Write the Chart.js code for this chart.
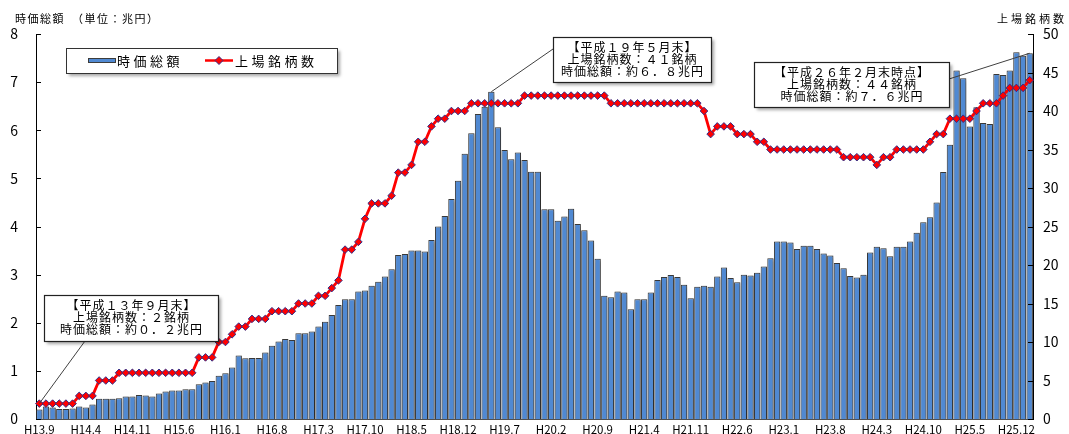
<!DOCTYPE html>
<html lang="ja">
<head>
<meta charset="utf-8">
<title>時価総額と上場銘柄数</title>
<script src="https://cdn.jsdelivr.net/npm/chart.js@4.4.1/dist/chart.umd.min.js"></script>
<style>
  html, body { margin: 0; padding: 0; background: #fff; }
  #chart { display: block; }
</style>
</head>
<body>
<canvas id="chart" width="1069" height="434"></canvas>
<script>
// Month-end figures, H13.9 through H26.2
const startYear = 13;   // Heisei year of the first month
const startMonth = 9;
const labelEvery = 7;   // one axis label every 7 months

// 時価総額 (兆円)
const marketCap = [
  0.20, 0.26, 0.24, 0.21, 0.21, 0.22, 0.26, 0.24, 0.30, 0.42,
  0.42, 0.42, 0.43, 0.47, 0.47, 0.50, 0.49, 0.47, 0.53, 0.57,
  0.59, 0.59, 0.62, 0.62, 0.72, 0.76, 0.79, 0.90, 0.95, 1.07,
  1.32, 1.26, 1.27, 1.27, 1.38, 1.52, 1.61, 1.66, 1.64, 1.78,
  1.78, 1.82, 1.92, 2.02, 2.16, 2.37, 2.49, 2.49, 2.65, 2.67,
  2.77, 2.85, 2.96, 3.11, 3.41, 3.43, 3.50, 3.50, 3.48, 3.72,
  4.00, 4.22, 4.57, 4.95, 5.51, 5.94, 6.34, 6.49, 6.80, 6.06,
  5.59, 5.40, 5.54, 5.38, 5.14, 5.14, 4.36, 4.36, 4.12, 4.21,
  4.37, 4.05, 3.92, 3.71, 3.33, 2.56, 2.53, 2.65, 2.63, 2.28,
  2.49, 2.49, 2.63, 2.89, 2.95, 2.99, 2.95, 2.79, 2.51, 2.75,
  2.77, 2.75, 2.96, 3.15, 2.93, 2.84, 3.00, 2.98, 3.04, 3.17,
  3.34, 3.69, 3.69, 3.67, 3.53, 3.60, 3.60, 3.53, 3.44, 3.40,
  3.24, 3.13, 2.97, 2.94, 3.00, 3.46, 3.58, 3.55, 3.38, 3.58,
  3.58, 3.69, 3.87, 4.09, 4.19, 4.50, 5.13, 5.70, 7.24, 7.08,
  6.08, 6.48, 6.15, 6.13, 7.17, 7.15, 7.24, 7.62, 7.55, 7.60
];

// 上場銘柄数
const listedCount = [
  2, 2, 2, 2, 2, 2, 3, 3, 3, 5,
  5, 5, 6, 6, 6, 6, 6, 6, 6, 6,
  6, 6, 6, 6, 8, 8, 8, 10, 10, 11,
  12, 12, 13, 13, 13, 14, 14, 14, 14, 15,
  15, 15, 16, 16, 17, 18, 22, 22, 23, 26,
  28, 28, 28, 29, 32, 32, 33, 36, 36, 38,
  39, 39, 40, 40, 40, 41, 41, 41, 41, 41,
  41, 41, 41, 42, 42, 42, 42, 42, 42, 42,
  42, 42, 42, 42, 42, 42, 41, 41, 41, 41,
  41, 41, 41, 41, 41, 41, 41, 41, 41, 41,
  40, 37, 38, 38, 38, 37, 37, 37, 36, 36,
  35, 35, 35, 35, 35, 35, 35, 35, 35, 35,
  35, 34, 34, 34, 34, 34, 33, 34, 34, 35,
  35, 35, 35, 35, 36, 37, 37, 39, 39, 39,
  39, 40, 41, 41, 41, 42, 43, 43, 43, 44
];

// Callout notes: which month they point at, and their text lines
const notes = [
  { index: 0, series: 'count', lines: ['【平成１３年９月末】', '上場銘柄数：２銘柄', '時価総額：約０．２兆円'] },
  { index: 68, series: 'cap', lines: ['【平成１９年５月末】', '上場銘柄数：４１銘柄', '時価総額：約６．８兆円'] },
  { index: 149, series: 'cap', lines: ['【平成２６年２月末時点】', '上場銘柄数：４４銘柄', '時価総額：約７．６兆円'] }
];

const months = [];
{
  let y = startYear, m = startMonth;
  for (let i = 0; i < marketCap.length; i++) {
    months.push('H' + y + '.' + m);
    m++;
    if (m > 12) { m = 1; y++; }
  }
}

const FONT = '"Noto Sans CJK JP", "Noto Sans", sans-serif';
const BAR_BLUE = '#5089d2';

// box geometry for each note: [x, y, w, h, anchor x, anchor y]
const noteBoxes = [
  [44, 295, 174, 46, 85, 341],
  [553, 37, 158, 45, 553, 49],
  [754, 62, 195, 45, 949, 79]
];

function textSpaced(ctx, str, x, y, spacing) {
  ctx.letterSpacing = spacing + 'px';
  ctx.fillText(str, x, y);
  ctx.letterSpacing = '0px';
}

// keep the value axes from pushing the plot area in for their end labels
function fixAxisWidth(s) {
  s.width = 36;
  s.paddingTop = 0;
  s.paddingBottom = 0;
}

const decorations = {
  id: 'decorations',
  beforeDatasetDraw(chart, args) {
    if (args.index !== 0) return;
    const ctx = chart.ctx;
    ctx.save();
    ctx.shadowColor = 'rgba(0, 0, 0, 0.45)';
    ctx.shadowBlur = 4;
    ctx.shadowOffsetX = 2;
    ctx.shadowOffsetY = 1;
  },
  afterDatasetDraw(chart, args) {
    if (args.index === 0) chart.ctx.restore();
  },
  afterDraw(chart) {
    const { ctx, chartArea: a, scales } = chart;
    ctx.save();

    // inward tick marks on both value axes
    ctx.strokeStyle = '#000';
    ctx.lineWidth = 1;
    ctx.beginPath();
    scales.y.ticks.forEach(t => {
      const py = Math.round(scales.y.getPixelForValue(t.value)) + 0.5;
      ctx.moveTo(a.left, py); ctx.lineTo(a.left + 5, py);
    });
    scales.y2.ticks.forEach(t => {
      const py = Math.round(scales.y2.getPixelForValue(t.value)) + 0.5;
      ctx.moveTo(a.right - 5, py); ctx.lineTo(a.right, py);
    });
    ctx.stroke();

    // axis titles
    ctx.fillStyle = '#000';
    ctx.font = '11px ' + FONT;
    ctx.textBaseline = 'middle';
    ctx.textAlign = 'left';
    textSpaced(ctx, '時価総額　（単位：兆円）', 15, 19, 1.5);
    ctx.textAlign = 'right';
    textSpaced(ctx, '上場銘柄数', 1067, 19, 3);

    // legend
    ctx.save();
    ctx.shadowColor = 'rgba(0, 0, 0, 0.35)';
    ctx.shadowBlur = 3;
    ctx.shadowOffsetX = 3;
    ctx.shadowOffsetY = 3;
    ctx.fillStyle = '#fff';
    ctx.fillRect(66, 48, 271, 25);
    ctx.restore();
    ctx.strokeStyle = '#333';
    ctx.strokeRect(66.5, 48.5, 271, 25);
    ctx.fillStyle = BAR_BLUE;
    ctx.fillRect(88, 58, 27, 5);
    ctx.strokeStyle = '#3c3c3c';
    ctx.strokeRect(88.5, 58.5, 27, 4);
    ctx.strokeStyle = '#ff0000';
    ctx.lineWidth = 2.5;
    ctx.beginPath();
    ctx.moveTo(205, 60.5); ctx.lineTo(233, 60.5);
    ctx.stroke();
    ctx.fillStyle = '#ff0000';
    ctx.strokeStyle = '#30308a';
    ctx.lineWidth = 1;
    ctx.beginPath();
    ctx.moveTo(219, 56.5); ctx.lineTo(223, 60.5); ctx.lineTo(219, 64.5); ctx.lineTo(215, 60.5);
    ctx.closePath();
    ctx.fill(); ctx.stroke();
    ctx.fillStyle = '#000';
    ctx.font = '13px ' + FONT;
    ctx.textAlign = 'left';
    textSpaced(ctx, '時価総額', 117, 61, 3.5);
    textSpaced(ctx, '上場銘柄数', 235, 61, 3.5);

    // callout leaders, then boxes
    const x = scales.x;
    notes.forEach((n, k) => {
      const b = noteBoxes[k];
      const px = x.getPixelForValue(n.index);
      const py = n.series === 'cap'
        ? scales.y.getPixelForValue(marketCap[n.index])
        : scales.y2.getPixelForValue(listedCount[n.index]);
      ctx.strokeStyle = '#404040';
      ctx.lineWidth = 1;
      ctx.beginPath();
      ctx.moveTo(b[4], b[5]);
      ctx.lineTo(px, py);
      ctx.stroke();
    });
    notes.forEach((n, k) => {
      const [bx, by, bw, bh] = noteBoxes[k];
      ctx.save();
      ctx.shadowColor = 'rgba(0, 0, 0, 0.35)';
      ctx.shadowBlur = 3;
      ctx.shadowOffsetX = 3;
      ctx.shadowOffsetY = 3;
      ctx.fillStyle = '#fff';
      ctx.fillRect(bx, by, bw, bh);
      ctx.restore();
      ctx.strokeStyle = '#222';
      ctx.lineWidth = 1.2;
      ctx.strokeRect(bx + 0.5, by + 0.5, bw, bh);
      ctx.fillStyle = '#000';
      ctx.font = '12px ' + FONT;
      ctx.textAlign = 'center';
      ctx.textBaseline = 'middle';
      n.lines.forEach((line, j) => {
        textSpaced(ctx, line, bx + bw / 2 + 0.5, by + 10.5 + j * 12, 1);
      });
    });

    ctx.restore();
  }
};

new Chart(document.getElementById('chart'), {
  data: {
    labels: months,
    datasets: [
      {
        type: 'bar',
        label: '時価総額',
        data: marketCap,
        yAxisID: 'y',
        backgroundColor: BAR_BLUE,
        borderColor: '#3c3c3c',
        borderWidth: 1,
        barPercentage: 0.95,
        categoryPercentage: 1,
        order: 2
      },
      {
        type: 'line',
        label: '上場銘柄数',
        data: listedCount,
        yAxisID: 'y2',
        borderColor: '#ff0000',
        borderWidth: 2.8,
        tension: 0,
        pointStyle: 'rectRot',
        pointRadius: 3.8,
        pointBackgroundColor: '#ff0000',
        pointBorderColor: '#30308a',
        pointBorderWidth: 1,
        order: 1
      }
    ]
  },
  options: {
    responsive: false,
    animation: false,
    devicePixelRatio: 1,
    layout: { padding: { top: 34, left: 0, right: 0, bottom: 0 } },
    plugins: {
      legend: { display: false },
      tooltip: { enabled: false }
    },
    scales: {
      x: {
        grid: { display: false, drawTicks: false },
        border: { display: true, color: '#505050' },
        ticks: {
          autoSkip: false,
          maxRotation: 0,
          padding: 4,
          color: '#000',
          font: { family: FONT, size: 11.5 },
          callback: function (value, index) {
            return index % labelEvery === 0 ? this.getLabelForValue(value) : '';
          }
        },
        afterFit: s => { s.height = 15; }
      },
      y: {
        position: 'left',
        min: 0,
        max: 8,
        grid: { display: false, drawTicks: false },
        border: { display: true, color: '#000' },
        ticks: { stepSize: 1, padding: 18, color: '#000', font: { family: FONT, size: 14 } },
        afterFit: fixAxisWidth
      },
      y2: {
        position: 'right',
        min: 0,
        max: 50,
        grid: { display: false, drawTicks: false },
        border: { display: true, color: '#000' },
        ticks: { stepSize: 5, padding: 10, color: '#000', font: { family: FONT, size: 14 } },
        afterFit: fixAxisWidth
      }
    }
  },
  plugins: [decorations]
});
</script>
</body>
</html>
